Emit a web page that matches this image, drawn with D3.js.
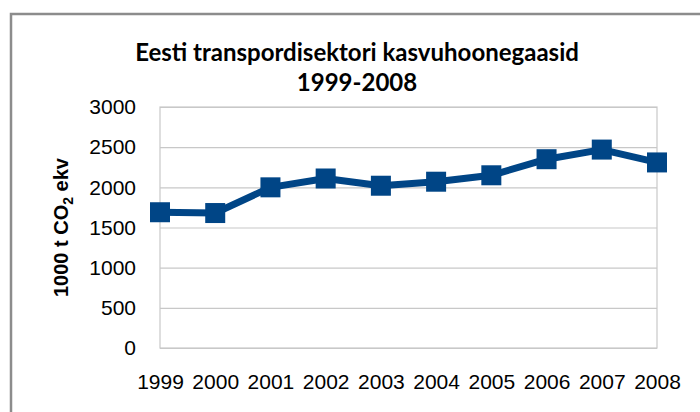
<!DOCTYPE html>
<html>
<head>
<meta charset="utf-8">
<script src="https://cdn.jsdelivr.net/npm/d3@7"></script>
<style>
  body { margin: 0; background: #fff; }
  svg { display: block; }
</style>
</head>
<body>
<svg id="chart" width="700" height="412"></svg>
<script>
const years = ['1999', '2000', '2001', '2002', '2003', '2004', '2005', '2006', '2007', '2008']
const emissions = [1690, 1680, 2000, 2110, 2020, 2070, 2150, 2350, 2470, 2310]
const yTicks = [0, 500, 1000, 1500, 2000, 2500, 3000]

const svg = d3.select('#chart')
const plot = {left: 160, right: 657, top: 107, bottom: 348}
const blue = '#004586'
const axisFont = 'Liberation Sans, Arial, sans-serif'

// outer frame, runs off the right and bottom edge
svg.append('rect')
  .attr('x', 11).attr('y', 14)
  .attr('width', 720).attr('height', 420)
  .attr('fill', '#fff')
  .attr('stroke', '#8c8c8c')
  .attr('stroke-width', 2.5)

const x = d3.scalePoint()
  .domain(years)
  .range([plot.left, plot.right])
  .padding(0)

const y = d3.scaleLinear()
  .domain([0, 3000])
  .range([plot.bottom, plot.top])

// gridlines + y labels
const yAxis = svg.append('g')
  .attr('transform', `translate(${plot.left},0)`)
  .call(d3.axisLeft(y).tickValues(yTicks).tickFormat(d3.format('d'))
    .tickSize(-(plot.right - plot.left)).tickPadding(24))
yAxis.select('.domain').remove()
yAxis.selectAll('.tick line').attr('stroke', '#c8c8c8').attr('stroke-width', 1.2)
yAxis.selectAll('.tick text')
  .attr('fill', '#000')
  .style('font-family', axisFont)
  .style('font-size', '21px')

// plot frame
svg.append('rect')
  .attr('x', plot.left).attr('y', plot.top)
  .attr('width', plot.right - plot.left).attr('height', plot.bottom - plot.top)
  .attr('fill', 'none')
  .attr('stroke', '#c8c8c8')
  .attr('stroke-width', 1.2)

// x labels
const xAxis = svg.append('g')
  .attr('transform', `translate(0,${plot.bottom})`)
  .call(d3.axisBottom(x).tickSize(0).tickPadding(26))
xAxis.select('.domain').remove()
xAxis.selectAll('.tick text')
  .attr('fill', '#000')
  .style('font-family', axisFont)
  .style('font-size', '21px')

// series
const line = d3.line()
  .x((d, i) => x(years[i]))
  .y(d => y(d))

svg.append('path')
  .datum(emissions)
  .attr('d', line)
  .attr('fill', 'none')
  .attr('stroke', blue)
  .attr('stroke-width', 7)
  .attr('stroke-linejoin', 'round')

svg.append('g')
  .selectAll('rect')
  .data(emissions)
  .enter().append('rect')
  .attr('x', (d, i) => x(years[i]) - 10)
  .attr('y', d => y(d) - 10)
  .attr('width', 20)
  .attr('height', 20)
  .attr('fill', blue)

// title
const title = svg.append('text')
  .attr('text-anchor', 'middle')
  .attr('font-family', 'Lato, Carlito, sans-serif')
  .attr('font-weight', 'bold')
  .attr('font-size', 24)
  .attr('fill', '#000')
title.append('tspan').attr('x', 357).attr('y', 61).text('Eesti transpordisektori kasvuhoonegaasid')
title.append('tspan').attr('x', 357).attr('y', 91).text('1999-2008')

// y axis title
const yTitle = svg.append('text')
  .attr('transform', `translate(68,${(plot.top + plot.bottom) / 2}) rotate(-90)`)
  .attr('text-anchor', 'middle')
  .attr('font-family', axisFont)
  .attr('font-weight', 'bold')
  .attr('font-size', 20)
  .attr('fill', '#000')
yTitle.append('tspan').text('1000 t CO')
yTitle.append('tspan').attr('font-size', 14).attr('dy', 5).text('2')
yTitle.append('tspan').attr('dy', -5).text(' ekv')
</script>
</body>
</html>
